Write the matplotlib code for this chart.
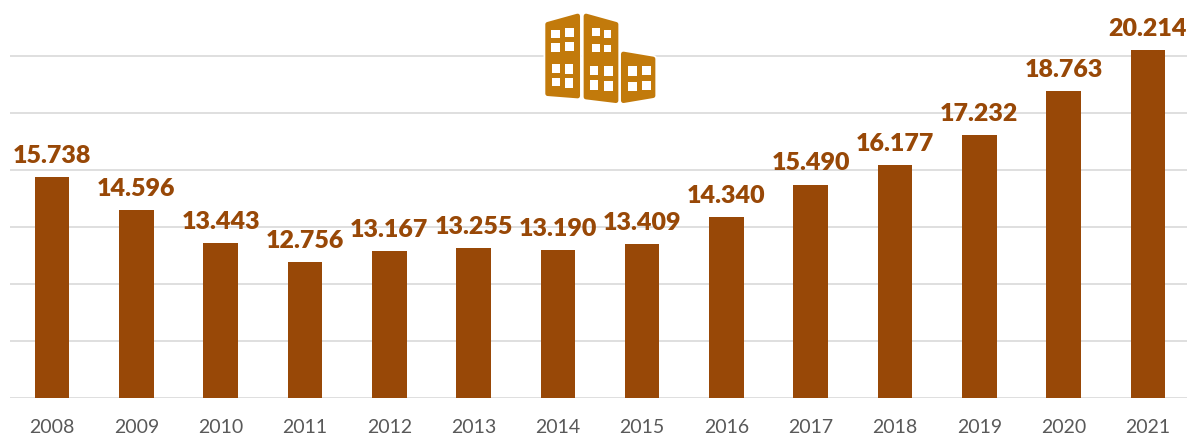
import matplotlib
matplotlib.use('Agg')
import matplotlib.pyplot as plt
from matplotlib.patches import Polygon, Rectangle

years = ['2008', '2009', '2010', '2011', '2012', '2013', '2014', '2015',
         '2016', '2017', '2018', '2019', '2020', '2021']
values = [15738, 14596, 13443, 12756, 13167, 13255, 13190, 13409,
          14340, 15490, 16177, 17232, 18763, 20214]
grid_values = [8000, 10000, 12000, 14000, 16000, 18000, 20000]

# icon outlines, in px of the 3x crop around the icon
buildings = [
    [(83, 76), (173, 51), (173, 291), (83, 284)],
    [(198, 51), (288, 76), (288, 305), (198, 294)],
    [(310, 165), (399, 180), (399, 290), (310, 305)],
]
windows = [
    (94, 92, 119, 118), (136, 86, 162, 114), (94, 132, 119, 158), (136, 128, 162, 156),
    (95, 196, 119, 222), (134, 196, 158, 224), (95, 237, 119, 262), (134, 238, 158, 266),
    (216, 87, 240, 111), (251, 93, 273, 116), (216, 136, 240, 160), (251, 137, 273, 158),
    (209, 200, 235, 229), (252, 200, 278, 231), (209, 244, 235, 272), (252, 247, 278, 277),
    (325, 201, 350, 230), (367, 200, 392, 228), (325, 248, 350, 277), (367, 245, 392, 273),
]

BAR = '#984807'
ICON = '#C27A0B'
W, H = 1187, 435

plt.rcParams['font.family'] = ['Lato', 'DejaVu Sans']

fig = plt.figure(figsize=(W / 100, H / 100), dpi=100)
ax = fig.add_axes([10.0 / W, 1 - 399 / H, 1180 / W, 399 / H])

x = list(range(len(years)))
ax.bar(x, values, width=0.41, color=BAR, zorder=3)
ax.set_xlim(-0.5, len(years) - 0.5)
ax.set_ylim(8000, 22000)
ax.set_yticks(grid_values)
ax.set_xticks(x)
ax.set_xticklabels(years, fontsize=14, color='#595959')
ax.tick_params(axis='both', length=0)
ax.tick_params(axis='x', pad=14.5)
ax.tick_params(axis='y', labelleft=False)
ax.grid(axis='y', color='#D9D9D9', lw=1.2, zorder=0)
for s in ax.spines.values():
    s.set_visible(False)

for i, v in zip(x, values):
    label = f'{v:,}'.replace(',', '.')
    ax.annotate(label, (i, v), xytext=(0, 8), textcoords='offset points',
                ha='center', va='bottom', fontsize=18, fontweight='heavy',
                color=BAR, zorder=4)

# building icon sits on top of the gridlines, on a pixel overlay
over = fig.add_axes([0, 0, 1, 1])
over.set_xlim(0, W)
over.set_ylim(H, 0)
over.axis('off')
over.patch.set_alpha(0)


def to_px(px, py):
    return 520 + px / 3, py / 3


for b in buildings:
    pts = [to_px(*p) for p in b]
    over.add_patch(Polygon(pts, closed=True, fc='white', ec='white', lw=6, joinstyle='round'))
for b in buildings:
    pts = [to_px(*p) for p in b]
    over.add_patch(Polygon(pts, closed=True, fc=ICON, ec=ICON, lw=3.4, joinstyle='round'))
for x0, y0, x1, y1 in windows:
    px, py = to_px(x0, y0)
    over.add_patch(Rectangle((px, py), (x1 - x0) / 3, (y1 - y0) / 3, fc='white', ec='none'))

fig.savefig('out.png', dpi=100)
